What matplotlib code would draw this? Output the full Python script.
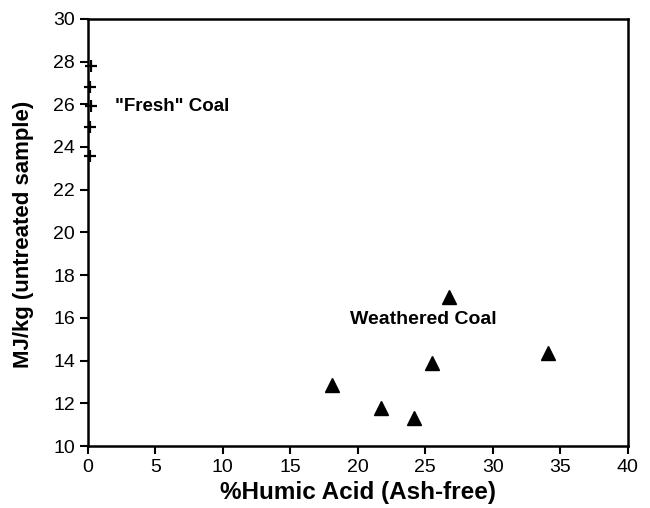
import matplotlib.pyplot as plt

plt.rcParams['font.family'] = ['Liberation Sans', 'DejaVu Sans']

# "Fresh" coal samples (plotted near zero humic acid)
fresh_x = [0.27, 0.15, 0.27, 0.15, 0.2]
fresh_y = [27.77, 26.8, 25.9, 24.93, 23.58]

# weathered coal samples
weathered_x = [26.76, 34.1, 25.48, 18.1, 21.75, 24.17]
weathered_y = [16.99, 14.37, 13.9, 12.86, 11.77, 11.33]

x_ticks = list(range(0, 45, 5))
y_ticks = list(range(10, 32, 2))

fig = plt.figure(figsize=(6.5, 5.08), dpi=100)
ax = fig.add_axes([0.135, 0.122, 0.831, 0.841])

ax.plot(fresh_x, fresh_y, linestyle="none", marker="+", markersize=8,
        markeredgewidth=1.6, color="black", clip_on=False)
ax.plot(weathered_x, weathered_y, linestyle="none", marker="^", markersize=10.5,
        color="black")

ax.text(2.0, 25.9, '"Fresh" Coal', fontsize=13.5, fontweight="bold", va="center")
ax.text(19.4, 15.9, "Weathered Coal", fontsize=14, fontweight="bold", va="center")

ax.set_xlim(0, 40)
ax.set_ylim(10, 30)
ax.set_xticks(x_ticks)
ax.set_yticks(y_ticks)
ax.tick_params(direction="out", length=6, width=1.5, labelsize=14, pad=3)

for spine in ax.spines.values():
    spine.set_linewidth(1.8)

ax.set_xlabel("%Humic Acid (Ash-free)", fontsize=17.5, fontweight="bold")
ax.set_ylabel("MJ/kg (untreated sample)", fontsize=16, fontweight="bold")
ax.xaxis.set_label_coords(0.5, -0.082)
ax.yaxis.set_label_coords(-0.10, 0.495)

fig.savefig("out.png", dpi=100)
